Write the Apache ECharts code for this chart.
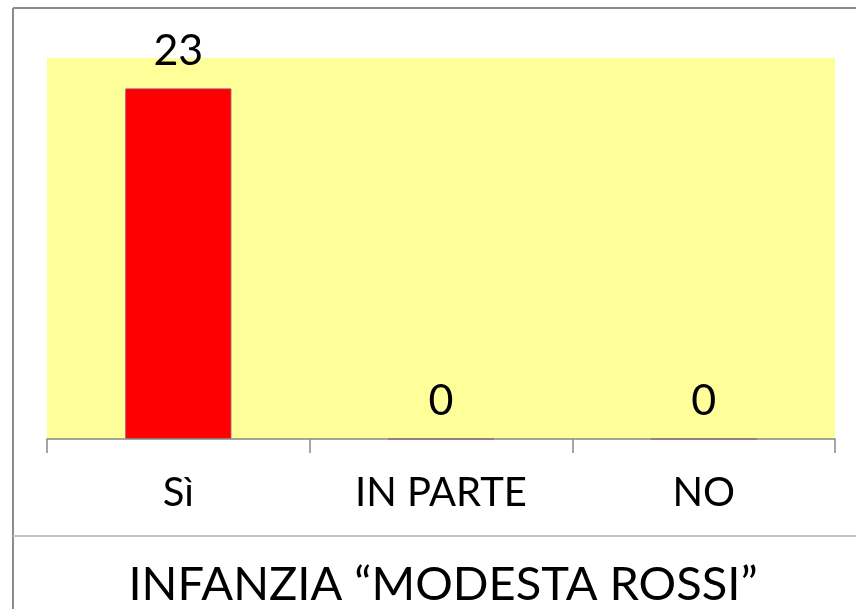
<!DOCTYPE html>
<html>
<head>
<meta charset="utf-8">
<script src="https://cdn.jsdelivr.net/npm/echarts@6/dist/echarts.min.js"></script>
<style>
html,body{margin:0;padding:0;background:#fff;}
#main{width:856px;height:609px;}
</style>
</head>
<body>
<div id="main"></div>
<script>
var categories = ['Sì', 'IN PARTE', 'NO'];
var values = [23, 0, 0];
var titleText = 'INFANZIA “MODESTA ROSSI”';

var myChart = echarts.init(document.getElementById('main'));
var font = 'Lato';
var option = {
	backgroundColor: '#ffffff',
	animation: false,
	title: {
		text: titleText,
		left: 438,
		top: 580,
		textAlign: 'center',
		textVerticalAlign: 'middle',
		textStyle: {fontFamily: font, fontSize: 47, fontWeight: 'normal', color: '#000'}
	},
	grid: {
		left: 47, right: 21, top: 58, bottom: 170,
		show: true, backgroundColor: '#FFFF99', borderWidth: 0
	},
	xAxis: {
		type: 'category',
		data: categories,
		z: 5,
		axisLine: {lineStyle: {color: '#888888', width: 1.5}},
		axisTick: {show: true, length: 14, interval: 0, lineStyle: {color: '#888888', width: 1.5}},
		axisLabel: {fontFamily: font, fontSize: 40, color: '#000', margin: 34, interval: 0}
	},
	yAxis: {
		type: 'value', min: 0, max: 25, show: false,
		splitLine: {show: false}
	},
	graphic: [
		{type: 'line', shape: {x1: 13, y1: 8, x2: 856, y2: 8}, style: {stroke: '#8c8c8c', lineWidth: 2}},
		{type: 'line', shape: {x1: 13, y1: 8, x2: 13, y2: 609}, style: {stroke: '#8c8c8c', lineWidth: 2}},
		{type: 'line', shape: {x1: 13, y1: 536, x2: 856, y2: 536}, style: {stroke: '#c4c4c4', lineWidth: 2}}
	],
	series: [{
		type: 'bar',
		data: values,
		barWidth: 106,
		itemStyle: {color: '#FF0000', borderColor: '#B03060', borderWidth: 1},
		label: {show: true, position: 'top', distance: 16, fontFamily: font, fontSize: 43, color: '#000'}
	}]
};
myChart.setOption(option, true);
</script>
</body>
</html>
